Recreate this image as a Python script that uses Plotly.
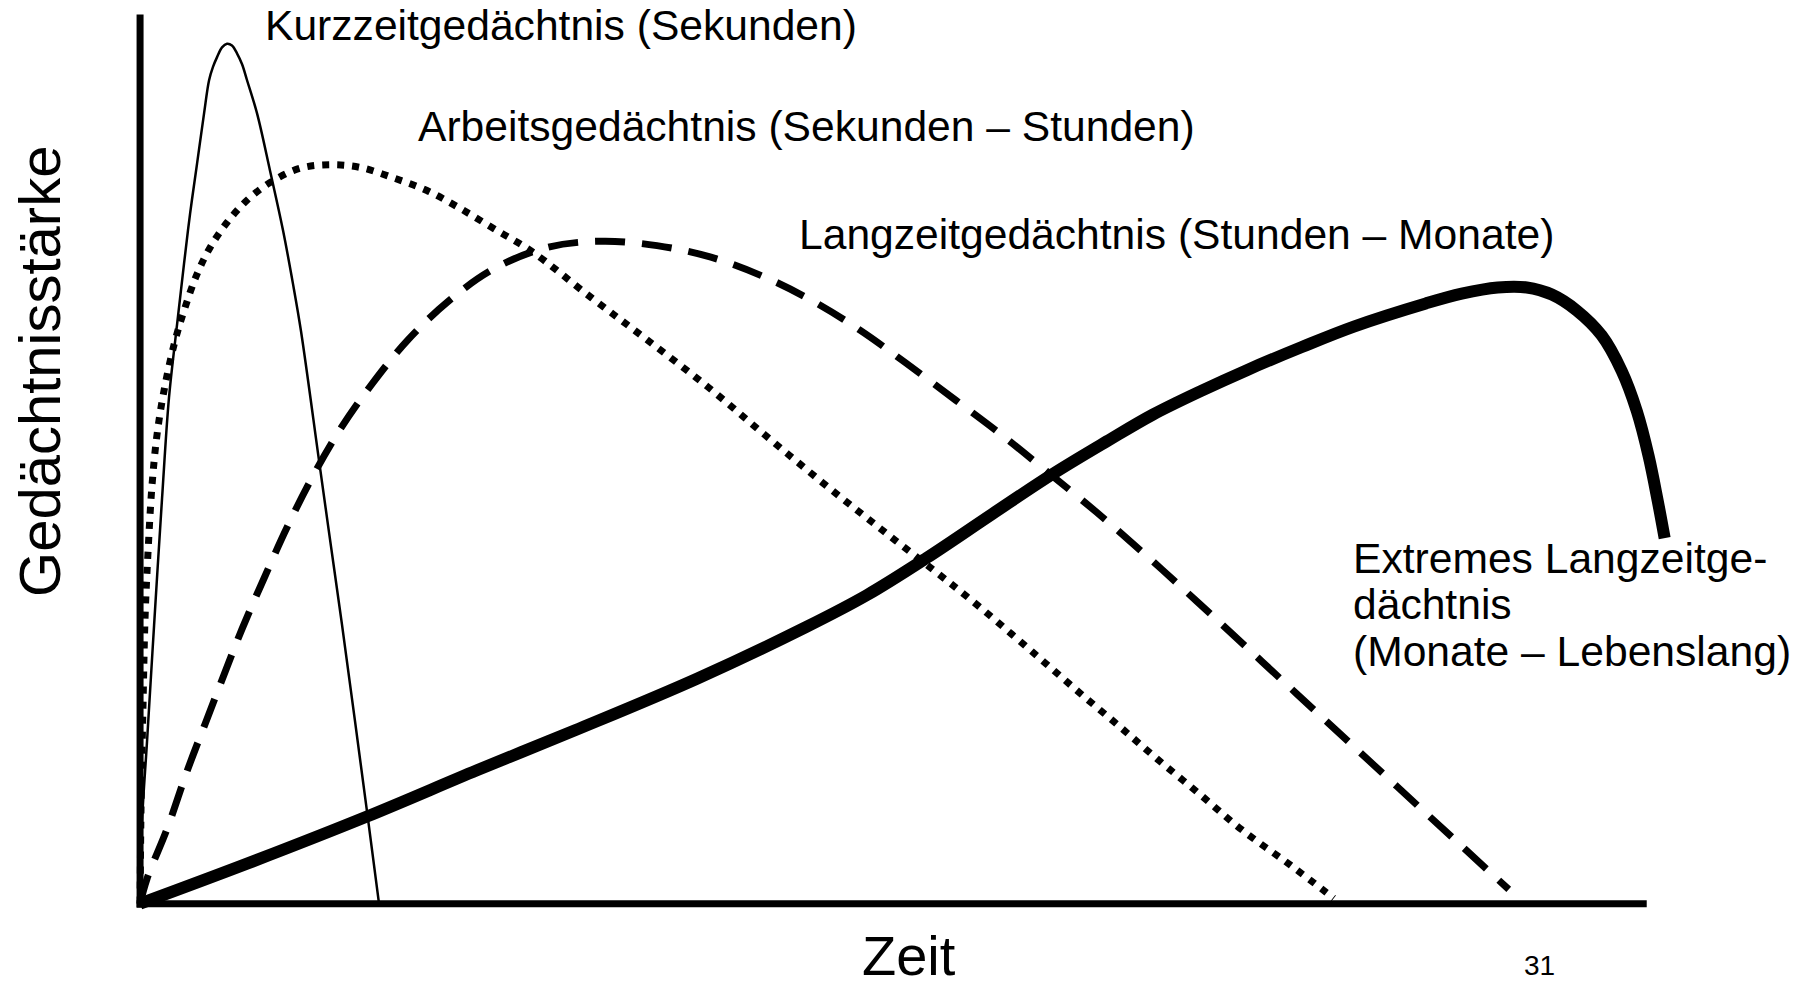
import plotly.graph_objects as go

# Kurzzeitgedächtnis (thin solid line)
kurz_x = [0, 0.13, 0.46, 0.93, 1.46, 1.92, 2.46, 2.92, 3.32, 3.78, 4.25, 4.58, 4.84,
          5.11, 5.44, 5.77, 6.1, 6.44, 6.77, 7.1, 7.76, 8.63, 9.49, 10.15, 10.68,
          11.88, 12.67, 13.4, 15.06, 15.86]
kurz_y = [0, 9.2, 18.2, 31.3, 45.6, 56.9, 65.2, 72.0, 77.6, 83.2, 88.9, 92.6, 94.1,
          95.2, 96.3, 96.7, 96.5, 95.6, 94.4, 92.6, 88.9, 82.4, 75.7, 69.7, 64.4,
          49.8, 40.2, 31.4, 10.4, 0]

# Arbeitsgedächtnis (dotted line)
arbeit_x = [0, 0.07, 0.2, 0.33, 0.53, 0.8, 1.13, 1.59, 2.26, 2.92, 3.78, 4.65, 5.77,
            7.1, 8.63, 10.62, 12.61, 14.6, 16.85, 19.04, 21.23, 23.49, 25.95, 29.99,
            33.58, 37.62, 41.41, 45.26, 49.04, 52.75, 55.34, 57.86, 60.12, 62.44,
            64.96, 67.49, 70.34, 73.13, 76.38, 79.23]
arbeit_y = [0, 11.5, 22.7, 32.1, 39.6, 47.2, 52.8, 57.7, 62.9, 66.7, 70.8, 73.8, 76.6,
            79.1, 81.1, 82.7, 83.1, 82.8, 81.6, 80.2, 78.2, 75.9, 73.4, 68.1,
            63.5, 58.2, 52.8, 47.4, 42.3, 37.4, 33.9, 30.3, 27.0, 23.6,
            20.0, 16.3, 12.3, 8.3, 4.3, 0.6]

# Langzeitgedächtnis (dashed line)
lang_x = [0, 0.46, 1.79, 3.12, 4.45, 6.77, 8.23, 9.75, 11.41, 13.34, 15.46, 17.78,
          20.5, 23.49, 27.01, 30.66, 34.31, 37.89, 41.41, 44.72, 47.78, 50.83,
          54.15, 57.2, 60.19, 63.5, 66.82, 70.14, 76.77, 83.41, 90.84]
lang_y = [0, 2.8, 8.4, 14.9, 20.8, 30.9, 36.6, 42.3, 47.9, 53.5, 58.6, 63.4,
          67.8, 71.4, 73.8, 74.5, 74.0, 72.7, 70.5, 67.7, 64.5, 60.8,
          56.6, 52.7, 48.6, 44.0, 39.1, 34.0, 23.6, 13.2, 1.6]

# Extremes Langzeitgedächtnis (thick solid line)
extrem_x = [0, 7.1, 15.06, 22.36, 28.87, 36.96, 44.19, 48.24, 52.22, 56.54, 60.65,
            64.17, 67.22, 70.47, 73.46, 77.11, 80.56, 85.34, 87.72, 90.11, 92.04,
            93.7, 95.36, 97.01, 98.34, 99.34, 100.13, 100.73, 101.19]
extrem_y = [0, 4.5, 9.8, 15.0, 19.5, 25.3, 31.1, 34.7, 38.9, 43.8, 48.4,
            52.0, 55.0, 57.7, 60.0, 62.6, 64.9, 67.5, 68.6, 69.3, 69.3,
            68.5, 66.7, 63.9, 59.9, 55.4, 50.3, 45.3, 41.1]

X_AXIS_END = 100
Y_AXIS_END = 100
FONT = "Liberation Sans, Arial, sans-serif"

fig = go.Figure()

fig.add_trace(go.Scatter(x=extrem_x, y=extrem_y, mode="lines",
                         line=dict(color="black", width=12, shape="spline", smoothing=1)))
fig.add_trace(go.Scatter(x=lang_x, y=lang_y, mode="lines",
                         line=dict(color="black", width=7, dash="30px,17px",
                                   shape="spline", smoothing=1)))
fig.add_trace(go.Scatter(x=arbeit_x, y=arbeit_y, mode="lines",
                         line=dict(color="black", width=7, dash="7px,8px",
                                   shape="spline", smoothing=1)))
fig.add_trace(go.Scatter(x=kurz_x, y=kurz_y, mode="lines",
                         line=dict(color="black", width=2.5, shape="spline", smoothing=1)))

# axis lines
fig.add_shape(type="line", xref="x", yref="y", x0=0, y0=-0.45, x1=0, y1=Y_AXIS_END,
              line=dict(color="black", width=7))
fig.add_shape(type="line", xref="x", yref="y", x0=-0.23, y0=0, x1=X_AXIS_END, y1=0,
              line=dict(color="black", width=7))

labels = [
    ("Kurzzeitgedächtnis (Sekunden)", 8.16, 98.8),
    ("Arbeitsgedächtnis (Sekunden – Stunden)", 18.31, 87.5),
    ("Langzeitgedächtnis (Stunden – Monate)", 43.6, 75.3),
    ("Extremes Langzeitge-", 80.36, 38.9),
    ("dächtnis", 80.36, 33.7),
    ("(Monate – Lebenslang)", 80.36, 28.4),
]
for text, x, y in labels:
    fig.add_annotation(text=text, x=x, y=y, xref="x", yref="y", showarrow=False,
                       xanchor="left", yanchor="middle",
                       font=dict(family=FONT, size=42.6, color="black"))

fig.add_annotation(text="Gedächtnisstärke", x=-0.0537, y=0.601, xref="paper", yref="paper",
                   showarrow=False, textangle=-90, xanchor="center", yanchor="middle",
                   font=dict(family=FONT, size=58, color="black"))
fig.add_annotation(text="Zeit", x=0.4956, y=-0.0419, xref="paper", yref="paper",
                   showarrow=False, xanchor="center", yanchor="middle",
                   font=dict(family=FONT, size=56, color="black"))
fig.add_annotation(text="31", x=0.8944, y=-0.054, xref="paper", yref="paper",
                   showarrow=False, xanchor="center", yanchor="middle",
                   font=dict(family=FONT, size=28, color="black"))

fig.update_layout(
    width=1812,
    height=990,
    margin=dict(l=125, r=105, t=10, b=73),
    paper_bgcolor="white",
    plot_bgcolor="white",
    showlegend=False,
    xaxis=dict(range=[-1, 104], visible=False, fixedrange=True),
    yaxis=dict(range=[-1.5, 100.5], visible=False, fixedrange=True),
)

fig.write_html("out.html", config={"displayModeBar": False},
               post_script="document.body.style.margin='0';")
